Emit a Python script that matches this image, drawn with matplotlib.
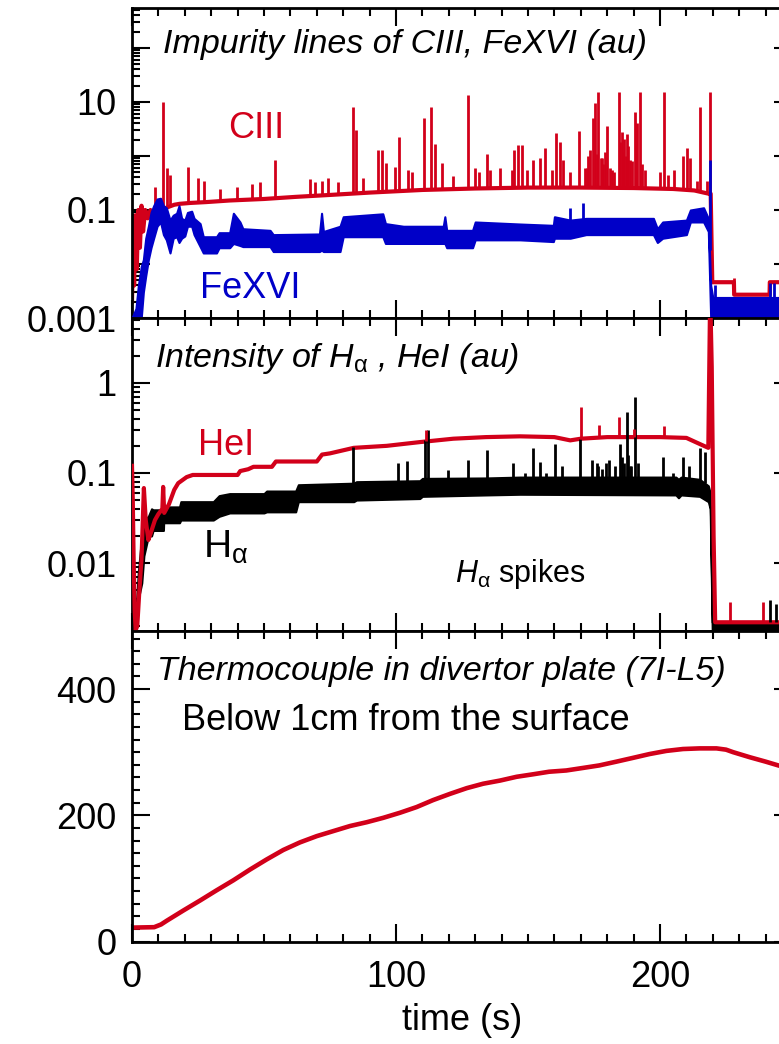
import numpy as np
import matplotlib
matplotlib.use("Agg")
import matplotlib.pyplot as plt
from matplotlib.ticker import FixedLocator, LogLocator, MultipleLocator, NullFormatter, FixedFormatter

plt.rcParams['font.family'] = ['Liberation Sans', 'DejaVu Sans']
plt.rcParams['mathtext.fontset'] = 'custom'
plt.rcParams['mathtext.rm'] = 'Liberation Sans'
plt.rcParams['mathtext.it'] = 'Liberation Sans:italic'
plt.rcParams['mathtext.bf'] = 'Liberation Sans:bold'

RED = '#d2001a'
BLUE = '#0000c8'

# ---------------- Panel 1: impurity lines ----------------
ciii_t = [0, 0.4, 0.8, 1.3, 1.8, 2.4, 3.0, 3.6, 4.2, 5.0, 6.0, 7.0, 8.0, 9.0, 10.5, 12, 14, 16, 18, 22,
          28, 37, 50, 62, 75, 90, 110, 130, 150, 170, 190, 205, 213, 218.5, 219.2, 219.8, 228, 228.1,
          241.5, 241.6, 250]
ciii_v = [0.002, 0.03, 0.004, 0.08, 0.008, 0.1, 0.02, 0.12, 0.04, 0.1, 0.07, 0.1, 0.09, 0.1, 0.095,
          0.105, 0.115, 0.125, 0.13, 0.135, 0.14, 0.15, 0.16, 0.175, 0.19, 0.21, 0.235, 0.25, 0.26,
          0.26, 0.255, 0.245, 0.23, 0.2, 0.2, 0.0046, 0.0046, 0.0027, 0.0027, 0.0046, 0.0046]

ciii_spike_t = [8.7, 11.9, 13.4, 14.4, 21.3, 25.1, 27.3, 33.3, 39.6, 45.3, 48.5, 54.2, 67.4, 69.3, 71.8,
                74.4, 78.1, 83.8, 84.8, 87.4, 93.3, 94.6, 96.1, 99.6, 101.1, 104.7, 105.9, 110.6, 113.2,
                114.8, 117.3, 121.7, 127.4, 129.9, 131.5, 134.3, 135.6, 139.4, 143.8, 144.7, 146.3,
                147.6, 149.5, 151.8, 154.6, 156.5, 159, 160.6, 162.2, 163.2, 166, 169.5, 171.5, 172.3,
                172.8, 173.5, 174.5, 175.4, 176.0, 176.7, 177.5, 178.0, 178.5, 179.0, 180.1, 181.0,
                181.7, 182.5, 184.5, 185.0, 185.5, 186.0, 186.4, 187.0, 187.4, 188.0, 188.7, 189.5,
                190.6, 191.0, 191.4, 192.5, 193.0, 194.3, 200, 201.7, 203.2, 205.3, 208.9, 210.1,
                211.4, 213.9, 215.2, 217.7, 219.0, 228.0]
ciii_spike_v = [0.27, 10, 0.59, 0.45, 0.63, 0.39, 0.35, 0.25, 0.27, 0.3, 0.33, 0.84, 0.37, 0.33, 0.35,
                0.39, 0.33, 8.1, 3.0, 0.39, 1.3, 1.3, 0.73, 0.63, 2.2, 0.55, 0.5, 5.0, 8.1,
                1.7, 0.73, 0.42, 13.5, 0.6, 0.5, 1.09, 0.55, 0.6, 0.55, 1.3, 1.6,
                1.6, 0.55, 0.84, 0.9, 1.4, 0.55, 2.7, 1.8, 0.84, 0.5, 2.9, 0.6, 0.6,
                1.0, 1.3, 5.0, 9.6, 1.1, 15.5, 0.9, 0.9, 0.7, 1.2, 3.6, 0.6,
                0.55, 0.5, 15.5, 1.8, 2.8, 1.2, 2.1, 1.0, 2.6, 1.5, 0.84, 0.8,
                6.6, 1.6, 4.0, 15.5, 0.7, 0.55, 0.5, 15.5, 0.45, 0.55, 1.0, 1.4,
                0.9, 0.35, 8.1, 0.35, 15.5, 0.0055]

fe_t = [0, 1.5, 2.4, 3.5, 4.3, 5.2, 6.2, 7.2, 8.2, 9.5, 10.8, 11.9, 13, 14.4, 15.6, 16.9, 17.8, 18.8,
        20, 21, 22.6, 23.5, 25.8, 27, 32, 33, 37, 38.4, 40.9, 42, 52.3, 53.5, 71, 71.8, 72.5, 78.8,
        80, 95, 96, 102.8, 117.9, 118.5, 119.2, 129, 130, 147, 159.6, 160, 166, 172, 197.5, 199,
        201, 210, 211.5, 216.5, 218.3, 219.2, 220, 250]
fe_lo = [0.001, 0.001, 0.001, 0.001, 0.003, 0.006, 0.012, 0.02, 0.03, 0.05, 0.06, 0.035, 0.028, 0.016,
         0.03, 0.032, 0.025, 0.03, 0.033, 0.05, 0.05, 0.035, 0.021, 0.016, 0.016, 0.02, 0.02, 0.024,
         0.022, 0.021, 0.021, 0.017, 0.017, 0.018, 0.017, 0.017, 0.032, 0.032, 0.024, 0.024, 0.024,
         0.024, 0.02, 0.02, 0.028, 0.028, 0.026, 0.03, 0.03, 0.035, 0.035, 0.025, 0.03, 0.035, 0.06,
         0.06, 0.04, 0.001, 0.001, 0.001]
fe_hi = [0.001, 0.0015, 0.004, 0.009, 0.012, 0.03, 0.05, 0.09, 0.12, 0.16, 0.165, 0.12, 0.11, 0.065,
         0.08, 0.087, 0.12, 0.07, 0.065, 0.09, 0.095, 0.07, 0.056, 0.032, 0.032, 0.038, 0.038, 0.087,
         0.06, 0.045, 0.042, 0.035, 0.036, 0.087, 0.04, 0.05, 0.075, 0.085, 0.056, 0.05, 0.05, 0.075,
         0.042, 0.042, 0.06, 0.055, 0.052, 0.075, 0.065, 0.07, 0.07, 0.045, 0.06, 0.065, 0.1, 0.11,
         0.07, 0.004, 0.0024, 0.0024]
fe_spike_t = [166, 171, 218.8, 221, 241.5, 243]
fe_spike_v = [0.11, 0.135, 0.85, 0.004, 0.0045, 0.0045]

# ---------------- Panel 2: H-alpha and HeI ----------------
hei_t = [0, 0.3, 0.6, 1.0, 1.4, 2.0, 2.8, 3.6, 4.5, 5.2, 6.2, 7.2, 8.7, 10, 11.5, 11.8, 12.2, 14, 16,
         17.5, 20.7, 23, 40, 41, 44, 46, 53, 54.5, 70, 72, 75, 84, 96.5, 109, 121.7, 134, 147, 160,
         166, 170, 180, 200, 210, 215, 218.3, 219, 219.6, 220.3, 220.9, 250]
hei_v = [0.12, 0.05, 0.012, 0.003, 0.0018, 0.002, 0.005, 0.011, 0.068, 0.03, 0.018, 0.022, 0.03,
         0.035, 0.04, 0.07, 0.036, 0.045, 0.065, 0.077, 0.09, 0.095, 0.095, 0.105, 0.11, 0.117, 0.117,
         0.134, 0.134, 0.16, 0.165, 0.19, 0.2, 0.22, 0.24, 0.25, 0.255, 0.25, 0.23, 0.24, 0.25, 0.25,
         0.245, 0.21, 0.19, 10, 1.5, 0.02, 0.0022, 0.0022]
hei_spike_t = [111.4, 170, 177, 184.5, 190, 201.5, 226.5, 239]
hei_spike_v = [0.3, 0.54, 0.34, 0.42, 0.31, 0.33, 0.0037, 0.0037]

ha_t = [0, 1.5, 2.4, 3.7, 4.5, 6.2, 7.4, 8, 11.9, 12, 18, 18.5, 30.8, 33, 37, 50, 51, 62, 63, 84, 85,
        109, 110, 134, 147, 206, 207, 208, 215, 218.3, 219, 219.8, 250]
ha_lo = [0.00176, 0.00176, 0.004, 0.006, 0.012, 0.02, 0.02, 0.023, 0.023, 0.028, 0.028, 0.03, 0.03,
         0.033, 0.036, 0.036, 0.037, 0.037, 0.048, 0.048, 0.05, 0.052, 0.055, 0.057, 0.058, 0.057,
         0.053, 0.057, 0.055, 0.048, 0.04, 0.00176, 0.00176]
ha_hi = [0.00176, 0.003, 0.008, 0.02, 0.03, 0.033, 0.04, 0.039, 0.039, 0.042, 0.042, 0.048, 0.048,
         0.056, 0.059, 0.059, 0.063, 0.063, 0.074, 0.077, 0.08, 0.082, 0.087, 0.088, 0.09, 0.09,
         0.085, 0.09, 0.085, 0.072, 0.06, 0.0022, 0.0022]
ha_spike_t = [83.8, 100.9, 104, 111, 112.2, 119.8, 127.4, 134.3, 144.4, 148.9, 152, 154.6, 157, 160.3,
              162.8, 169.7, 174.1, 176, 176.5, 178, 179.5, 180.5, 183, 184.9, 185.5, 186.5, 187.4,
              188, 188.7, 189, 190.6, 191.5, 201.3, 205, 208.9, 210.8, 215.2, 217, 241.7, 244]
ha_spike_v = [0.196, 0.128, 0.135, 0.23, 0.3, 0.108, 0.14, 0.18, 0.128, 0.1, 0.19, 0.134, 0.1, 0.21,
              0.12, 0.24, 0.14, 0.13, 0.12, 0.11, 0.13, 0.14, 0.12, 0.21, 0.15, 0.13, 0.48,
              0.16, 0.12, 0.12, 0.7, 0.13, 0.15, 0.1, 0.15, 0.12, 0.19, 0.17, 0.0039, 0.0035]

# ---------------- Panel 3: thermocouple ----------------
tc_t = [0, 8.4, 11, 13.2, 19.4, 25.8, 32, 38.4, 44.7, 51, 57.3, 63.6, 70, 76.3, 82.6, 88.9, 95.2,
        101.5, 107.8, 114, 120.5, 126.8, 133, 139.4, 145.7, 152, 158, 164.5, 170.8, 177, 183.5,
        189.8, 196, 202.4, 208.7, 215, 221.4, 225, 227.7, 234, 240, 244.8, 250]
tc_T = [22, 22.7, 27, 33, 49, 65, 81, 97, 114, 130, 145, 157, 167, 175, 183, 189, 196,
        204, 213, 224, 234, 243, 250, 255, 261, 265, 269, 271, 275, 279, 285,
        291, 297, 302, 305, 306, 306, 304, 300, 292, 285, 279, 273]

# ---------------- Figure ----------------
W, H = 779, 1044
fig = plt.figure(figsize=(W / 100, H / 100), dpi=100)

def ax_at(left, top, right, bottom):
    return fig.add_axes([left / W, 1 - bottom / H, (right - left) / W, (bottom - top) / H])

L, R = 132, 792
ax1 = ax_at(L, 8, R, 318)
ax2 = ax_at(L, 318, R, 631)
ax3 = ax_at(L, 631, R, 941.5)

TICKFS = 26

def style(ax):
    for s in ax.spines.values():
        s.set_linewidth(2.0)
    ax.tick_params(which='both', direction='in', top=True, right=True, width=1.5,
                   labelsize=TICKFS, colors='black')
    ax.tick_params(which='major', length=13)
    ax.tick_params(which='minor', length=5.5)
    ax.tick_params(axis='y', pad=11)
    ax.tick_params(axis='x', pad=13)
    ax.set_xlim(0, 250)
    ax.xaxis.set_major_locator(MultipleLocator(100))
    ax.xaxis.set_minor_locator(MultipleLocator(10))

for ax in (ax1, ax2, ax3):
    style(ax)

# Panel 1
ax1.set_yscale('log')
ax1.set_ylim(0.001, 550)
ax1.plot(ciii_t, ciii_v, color=RED, lw=3.0, zorder=2)
b1 = np.interp(ciii_spike_t, ciii_t, ciii_v)
ax1.vlines(ciii_spike_t, b1, ciii_spike_v, color=RED, lw=2.0, zorder=2)
ax1.fill_between(fe_t, fe_lo, fe_hi, color=BLUE, lw=1.5, edgecolor=BLUE, zorder=3)
bf = np.interp(fe_spike_t, fe_t, fe_lo)
ax1.vlines(fe_spike_t, bf, fe_spike_v, color=BLUE, lw=2.0, zorder=3)
ax1.yaxis.set_major_locator(FixedLocator([1e-3, 1e-2, 1e-1, 1, 10, 100]))
ax1.yaxis.set_major_formatter(FixedFormatter(['0.001', '', '0.1', '', '10', '']))
ax1.yaxis.set_minor_locator(LogLocator(base=10, subs=np.arange(2, 10), numticks=20))
ax1.yaxis.set_minor_formatter(NullFormatter())
ax1.tick_params(axis='x', labelbottom=False)

ax1.text(0.047, 0.856, 'Impurity lines of CIII, FeXVI (au)', transform=ax1.transAxes,
         fontsize=24.5, style='italic', va='baseline', ha='left')
ax1.text(0.145, 0.581, 'CIII', transform=ax1.transAxes, fontsize=26, color=RED,
         va='baseline', ha='left')
ax1.text(0.103, 0.0645, 'FeXVI', transform=ax1.transAxes, fontsize=26, color=BLUE,
         va='baseline', ha='left')

# Panel 2
ax2.set_yscale('log')
ax2.set_ylim(0.00176, 5.25)
ax2.fill_between(ha_t, ha_lo, ha_hi, color='black', lw=1.5, edgecolor='black', zorder=2)
ax2.plot(hei_t, hei_v, color=RED, lw=3.0, zorder=3)
bh = np.interp(ha_spike_t, ha_t, ha_hi)
ax2.vlines(ha_spike_t, bh, ha_spike_v, color='black', lw=2.0, zorder=4)
br = np.interp(hei_spike_t, hei_t, hei_v)
ax2.vlines(hei_spike_t, br, hei_spike_v, color=RED, lw=2.0, zorder=5)
ax2.yaxis.set_major_locator(FixedLocator([1e-3, 1e-2, 1e-1, 1, 10]))
ax2.yaxis.set_major_formatter(FixedFormatter(['0.001', '0.01', '0.1', '1', '10']))
ax2.yaxis.set_minor_locator(LogLocator(base=10, subs=np.arange(2, 10), numticks=20))
ax2.yaxis.set_minor_formatter(NullFormatter())
ax2.tick_params(axis='x', labelbottom=False)

ax2.text(0.035, 0.844, r'Intensity of $H_{\mathrm{\alpha}}$ , HeI (au)', transform=ax2.transAxes,
         fontsize=24.5, style='italic', va='baseline', ha='left')
ax2.text(0.10, 0.562, 'HeI', transform=ax2.transAxes, fontsize=26, color=RED,
         va='baseline', ha='left')
ax2.text(0.1076, 0.233, r'$\mathregular{H_{\alpha}}$', transform=ax2.transAxes, fontsize=28,
         color='black', va='baseline', ha='left')
ax2.text(0.489, 0.157, r'$H_{\mathrm{\alpha}}$ spikes', transform=ax2.transAxes, fontsize=22,
         color='black', va='baseline', ha='left')

# Panel 3
ax3.set_ylim(0, 492)
ax3.plot(tc_t, tc_T, color=RED, lw=3.3, solid_capstyle='round', solid_joinstyle='round')
ax3.yaxis.set_major_locator(MultipleLocator(200))
ax3.yaxis.set_minor_locator(MultipleLocator(20))
ax3.set_xlabel('time (s)', fontsize=26, labelpad=6)
ax3.text(0.038, 0.842, 'Thermocouple in divertor plate (7I-L5)', transform=ax3.transAxes,
         fontsize=24.5, style='italic', va='baseline', ha='left')
ax3.text(0.0758, 0.681, 'Below 1cm from the surface', transform=ax3.transAxes, fontsize=26,
         va='baseline', ha='left')

fig.savefig('out.png', dpi=100, facecolor='white')
